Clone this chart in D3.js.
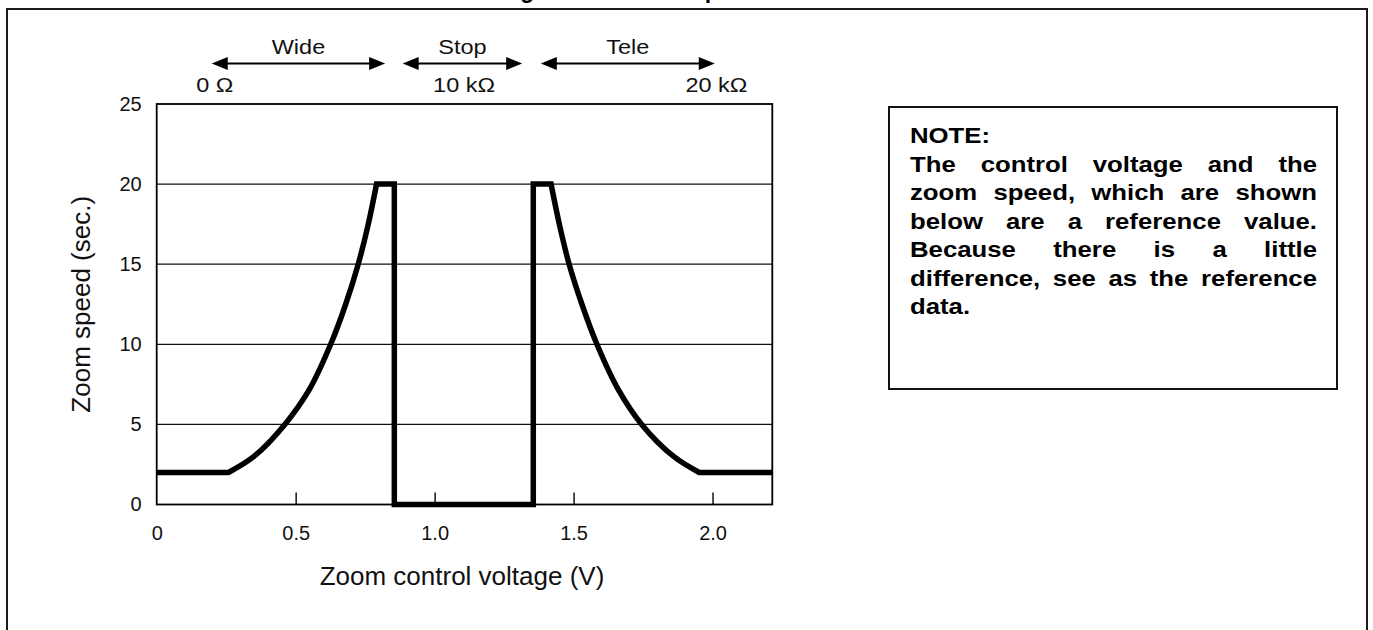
<!DOCTYPE html>
<html>
<head>
<meta charset="utf-8">
<script src="https://cdn.jsdelivr.net/npm/d3@7/dist/d3.min.js"></script>
<style>
  html, body { margin: 0; padding: 0; background: #fff; }
  svg { display: block; font-family: "Liberation Sans", Arial, Helvetica, sans-serif; }
</style>
</head>
<body>
<svg id="chart" width="1373" height="630"></svg>
<script>
// Zoom speed against zoom control voltage
const voltage = [0, 0.258, 0.35, 0.461, 0.55, 0.626, 0.68, 0.725, 0.76, 0.791,
                 0.855, 0.855, 1.355, 1.355, 1.419,
                 1.45, 1.484, 1.53, 1.584, 1.66, 1.745, 1.86, 1.952, 2.215];
const speed   = [2, 2, 3.0, 5, 7.2, 10, 12.5, 15, 17.4, 20,
                 20, 0, 0, 20, 20,
                 17.4, 15, 12.5, 10, 7.2, 5, 3.0, 2, 2];

const xTicks = [0, 0.5, 1.0, 1.5, 2.0];
const xTickLabels = ["0", "0.5", "1.0", "1.5", "2.0"];
const yTicks = [0, 5, 10, 15, 20, 25];
const yTickLabels = ["0", "5", "10", "15", "20", "25"];

// Operating ranges shown above the plot (in volts)
const rangeNames = ["Wide", "Stop", "Tele"];
const rangeFrom  = [0.198, 0.885, 1.382];
const rangeTo    = [0.822, 1.315, 2.008];

// Potentiometer resistance markers
const resistLabels = ["0 \u03A9", "10 k\u03A9", "20 k\u03A9"];
const resistAt     = [0.209, 1.106, 2.014];

const noteTitle = "NOTE:";
const noteLines = [
  "The control voltage and the",
  "zoom speed, which are shown",
  "below are a reference value.",
  "Because there is a little",
  "difference, see as the reference",
  "data."
];

const svg = d3.select("#chart");

// Outer frame
svg.append("rect")
  .attr("x", 7).attr("y", 9).attr("width", 1360).attr("height", 660)
  .attr("fill", "none").attr("stroke", "#1a1a1a").attr("stroke-width", 2);

// Title (runs off the top edge)
svg.append("text")
  .attr("x", 279).attr("y", -2)
  .attr("font-size", 23).attr("font-weight", "bold").attr("letter-spacing", 1.9)
  .text("Zoom control voltage and zoom speed");

const plot = { left: 156.7, right: 772.3, top: 104, bottom: 504.5 };
const x = d3.scaleLinear().domain([0, 2.215]).range([plot.left, plot.right]);
const y = d3.scaleLinear().domain([0, 25]).range([plot.bottom, plot.top]);

// Horizontal grid
svg.append("g").selectAll("line")
  .data(yTicks.filter(v => v > 0 && v < 25))
  .join("line")
  .attr("x1", plot.left).attr("x2", plot.right)
  .attr("y1", d => y(d)).attr("y2", d => y(d))
  .attr("stroke", "#111").attr("stroke-width", 1.3);

// X axis with inward ticks
const xAxis = svg.append("g")
  .attr("transform", `translate(0,${plot.bottom})`)
  .call(d3.axisBottom(x).tickValues(xTicks)
        .tickFormat((d, i) => xTickLabels[i]).tickSize(-12).tickPadding(21));
xAxis.select(".domain").remove();
xAxis.selectAll(".tick line").attr("stroke", "#111").attr("stroke-width", 1.5)
  .attr("opacity", (d, i) => i === 0 ? 0 : 1);
xAxis.selectAll(".tick text")
  .attr("font-size", 20).attr("fill", "#111")
  .attr("font-family", "Liberation Sans, Arial, sans-serif");

// Y axis labels
const yAxis = svg.append("g")
  .attr("transform", `translate(${plot.left},0)`)
  .call(d3.axisLeft(y).tickValues(yTicks)
        .tickFormat((d, i) => yTickLabels[i]).tickSize(0).tickPadding(15));
yAxis.select(".domain").remove();
yAxis.selectAll(".tick text")
  .attr("font-size", 20).attr("fill", "#111")
  .attr("font-family", "Liberation Sans, Arial, sans-serif");

// Plot border
svg.append("rect")
  .attr("x", plot.left).attr("y", plot.top)
  .attr("width", plot.right - plot.left).attr("height", plot.bottom - plot.top)
  .attr("fill", "none").attr("stroke", "#000").attr("stroke-width", 1.8);

// Speed curve: straight pieces and smooth pieces joined into one path
const pts = voltage.map((v, i) => [v, speed[i]]);
const straight = d3.line().x(d => x(d[0])).y(d => y(d[1]));
const smooth = d3.line().x(d => x(d[0])).y(d => y(d[1])).curve(d3.curveCatmullRom.alpha(0.5));
const pieces = [
  { a: 0, b: 1, gen: straight },
  { a: 1, b: 9, gen: smooth },
  { a: 9, b: 14, gen: straight },
  { a: 14, b: 22, gen: smooth },
  { a: 22, b: 23, gen: straight }
];
const pathD = pieces.map((p, k) => {
  const d = p.gen(pts.slice(p.a, p.b + 1));
  return k === 0 ? d : d.replace(/^M/, "L");
}).join("");
svg.append("path")
  .attr("d", pathD)
  .attr("fill", "none").attr("stroke", "#000").attr("stroke-width", 5.5)
  .attr("stroke-linejoin", "miter").attr("stroke-miterlimit", 4);

// Axis titles
svg.append("text")
  .attr("x", 462).attr("y", 585).attr("text-anchor", "middle")
  .attr("font-size", 26).attr("fill", "#111")
  .text("Zoom control voltage (V)");
svg.append("text")
  .attr("transform", `translate(90,${(plot.top + plot.bottom) / 2}) rotate(-90)`)
  .attr("text-anchor", "middle")
  .attr("font-size", 26).attr("fill", "#111")
  .text("Zoom speed (sec.)");

// Range arrows and their labels (labels slightly widened)
const wide = 1.12;
const arrowY = 63.5;
const headL = 16, headH = 6.5;
const arrows = svg.append("g");
const stretchedLabel = (cx, cy, str) => {
  arrows.append("text")
    .attr("transform", `translate(${cx},${cy}) scale(${wide},1)`)
    .attr("text-anchor", "middle")
    .attr("font-size", 21).attr("fill", "#111")
    .text(str);
};
rangeNames.forEach((name, i) => {
  const x0 = x(rangeFrom[i]), x1 = x(rangeTo[i]);
  arrows.append("line")
    .attr("x1", x0 + headL - 2).attr("x2", x1 - headL + 2)
    .attr("y1", arrowY).attr("y2", arrowY)
    .attr("stroke", "#000").attr("stroke-width", 2);
  arrows.append("path")
    .attr("d", `M${x0},${arrowY}L${x0 + headL},${arrowY - headH}L${x0 + headL},${arrowY + headH}Z`)
    .attr("fill", "#000");
  arrows.append("path")
    .attr("d", `M${x1},${arrowY}L${x1 - headL},${arrowY - headH}L${x1 - headL},${arrowY + headH}Z`)
    .attr("fill", "#000");
  stretchedLabel((x0 + x1) / 2, 54, name);
});
resistLabels.forEach((lab, i) => stretchedLabel(x(resistAt[i]), 91.5, lab));

// Note box
const box = { left: 889, top: 107, right: 1337, bottom: 389 };
svg.append("rect")
  .attr("x", box.left).attr("y", box.top)
  .attr("width", box.right - box.left).attr("height", box.bottom - box.top)
  .attr("fill", "none").attr("stroke", "#111").attr("stroke-width", 2);

// Note text, justified, set in a slightly widened bold face
const textLeft = 910, textRight = 1317;
const noteG = svg.append("g").attr("transform", `translate(${textLeft},0) scale(${wide},1)`);
const inner = (textRight - textLeft) / wide;
const noteStyle = sel => sel.attr("font-size", 23).attr("font-weight", "bold").attr("fill", "#000");

noteG.append("text").attr("x", 0).attr("y", 143).call(noteStyle).text(noteTitle);

noteLines.forEach((line, li) => {
  const yy = 172 + li * 28.5;
  const t = noteG.append("text").attr("y", yy).call(noteStyle);
  const words = line.split(" ");
  const spans = words.map(w => t.append("tspan").text(w));
  const widths = spans.map(s => s.node().getComputedTextLength());
  if (li === noteLines.length - 1 || words.length < 2) {
    let cx = 0;
    spans.forEach((s, i) => { s.attr("x", cx); cx += widths[i] + 6.4; });
    return;
  }
  const gap = (inner - d3.sum(widths)) / (words.length - 1);
  let cx = 0;
  spans.forEach((s, i) => { s.attr("x", cx); cx += widths[i] + gap; });
});
</script>
</body>
</html>
